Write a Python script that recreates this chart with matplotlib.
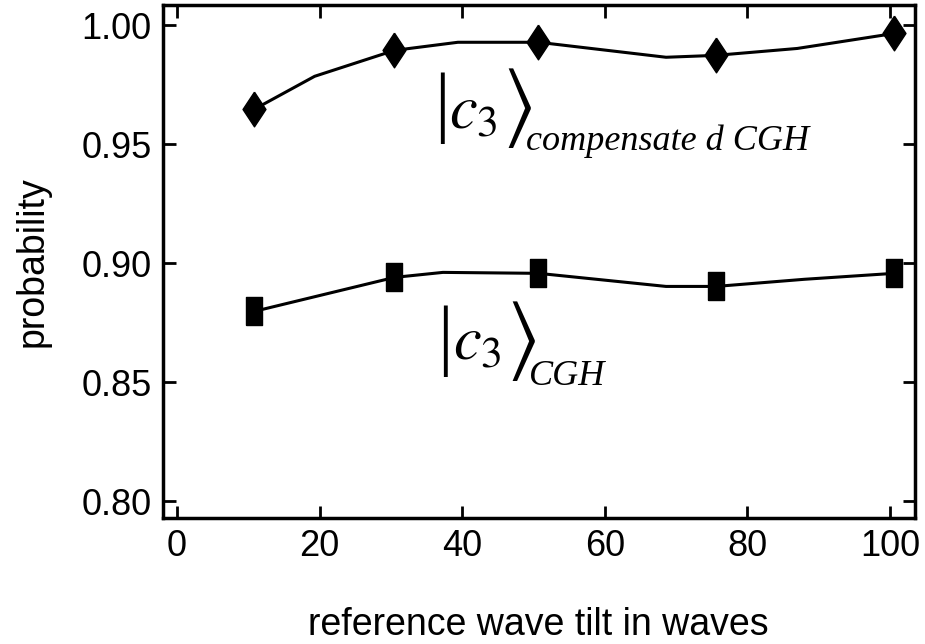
import matplotlib
matplotlib.use('Agg')
import matplotlib.pyplot as plt

plt.rcParams['font.family'] = ['Liberation Sans', 'DejaVu Sans']
plt.rcParams['mathtext.fontset'] = 'stix'

# measured points
tilt = [10.8, 30.5, 50.7, 75.6, 100.6]
p_comp = [0.9647, 0.9895, 0.9929, 0.9874, 0.9966]
p_cgh = [0.8798, 0.8941, 0.8958, 0.8903, 0.8958]

# vertices of the drawn connecting curves
curve_comp_x = [10.8, 19.3, 30.5, 39.4, 50.7, 68.6, 75.6, 87.0, 100.6]
curve_comp_y = [0.9647, 0.9786, 0.9895, 0.9929, 0.9929, 0.9866, 0.9874, 0.9903, 0.9966]
curve_cgh_x = [10.8, 30.5, 37.3, 50.7, 68.6, 75.6, 88.0, 100.6]
curve_cgh_y = [0.8798, 0.8941, 0.8962, 0.8958, 0.8903, 0.8903, 0.8933, 0.8958]

# tall marker shapes
diamond = [(0, 1), (0.66, 0), (0, -1), (-0.66, 0), (0, 1)]
rect = [(-0.6, -1), (0.6, -1), (0.6, 1), (-0.6, 1), (-0.6, -1)]

fig = plt.figure(figsize=(9.25, 6.44), dpi=100)
ax = fig.add_axes([0.176, 0.1957, 0.813, 0.7963])

ax.plot(curve_comp_x, curve_comp_y, color='black', lw=2.2)
ax.plot(curve_cgh_x, curve_cgh_y, color='black', lw=2.2)
ax.plot(tilt, p_comp, marker=diamond, ls='none', color='black', ms=25)
ax.plot(tilt, p_cgh, marker=rect, ls='none', color='black', ms=20)

ax.set_xlim(-2, 103.5)
ax.set_ylim(0.793, 1.0085)
ax.set_xticks([0, 20, 40, 60, 80, 100])
ax.set_yticks([0.80, 0.85, 0.90, 0.95, 1.00])
ax.set_yticklabels(['0.80', '0.85', '0.90', '0.95', '1.00'])
ax.tick_params(direction='in', length=9, width=2, labelsize=26,
               top=True, right=True, pad=8)
for s in ax.spines.values():
    s.set_linewidth(2.5)

ax.set_xlabel('reference wave tilt in waves', fontsize=27, va='baseline')
ax.xaxis.set_label_coords(0.5, -0.228)
ax.set_ylabel('probability', fontsize=27, labelpad=22)

# state labels |c3>
def ket(x0, y_mid, y_base, sub, sub_y):
    ax.text(x0, y_mid, '|', fontsize=56, family='Liberation Serif',
            ha='left', va='center')
    ax.text(x0 + 2.2, y_base, r'$c_3$', fontsize=45, ha='left', va='baseline')
    ax.text(x0 + 9.6, y_mid, r'$\rangle$', fontsize=62, ha='left', va='center')
    ax.text(x0 + 12.9, sub_y, sub, fontsize=26, style='italic',
            family='Liberation Serif', ha='left', va='baseline')

ket(36.0, 0.9651, 0.9567, 'compensate d CGH', 0.9475)
ket(36.5, 0.8672, 0.8597, 'CGH', 0.8487)

fig.savefig('out.png', dpi=100)
